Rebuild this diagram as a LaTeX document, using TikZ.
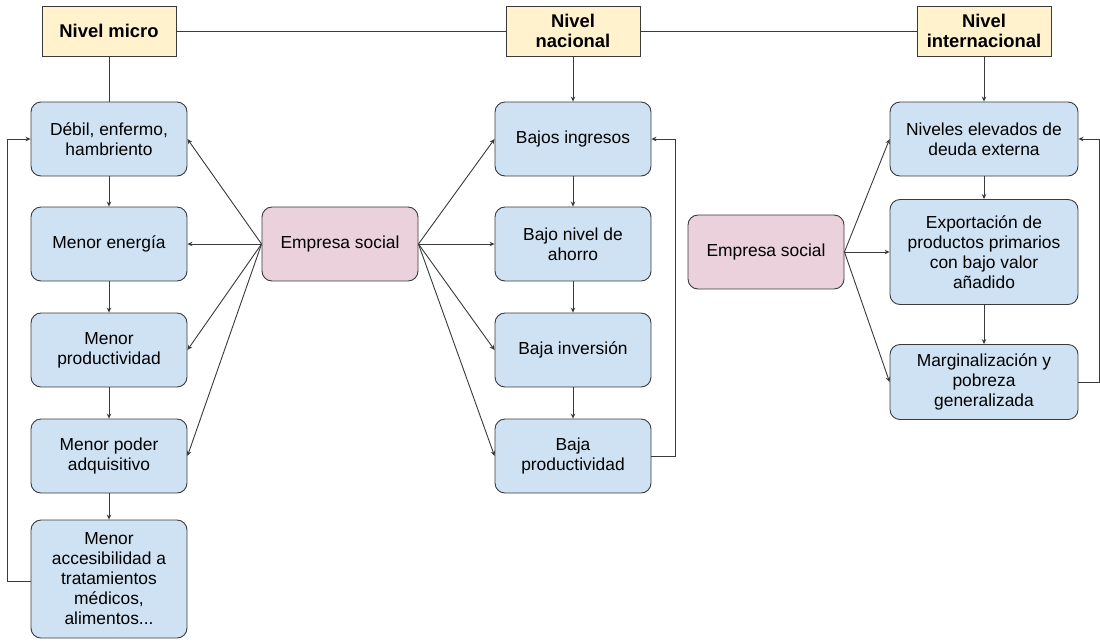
\documentclass[tikz,border=0pt]{standalone}
\usepackage{fontspec}
\setmainfont{Liberation Sans}
\usetikzlibrary{arrows.meta}
\definecolor{blueC}{HTML}{CFE2F3}
\definecolor{pinkC}{HTML}{EAD1DC}
\definecolor{yellowC}{HTML}{FFF2CC}
\definecolor{lineC}{HTML}{3A3A3A}
\begin{document}
\begin{tikzpicture}[x=1pt,y=-1pt,
  every node/.style={font=\fontsize{17.4}{20}\selectfont, align=center, inner sep=0pt},
  bluebox/.style={draw=lineC, line width=0.9pt, rounded corners=10pt, fill=blueC, minimum width=156pt, minimum height=74pt},
  pinkbox/.style={draw=lineC, line width=0.9pt, rounded corners=10pt, fill=pinkC, minimum width=156pt, minimum height=74pt},
  headbox/.style={draw=lineC, line width=0.9pt, fill=yellowC, minimum width=134pt, minimum height=50pt, font=\fontsize{18.4}{20}\selectfont\bfseries},
  conn/.style={draw=lineC, line width=0.9pt},
  arr/.style={conn, -{Stealth[length=5pt,width=4.5pt]}}
]
\useasboundingbox (0,0) rectangle (1100,641);
\fill[white] (0,0) rectangle (1100,641);

% headers
\node[headbox] (hmicro) at (109,31) {Nivel micro};
\node[headbox] (hnac) at (573,31) {Nivel\\nacional};
\node[headbox] (hint) at (984,31) {Nivel\\internacional};

% left column
\node[bluebox] (l1) at (109,139) {Débil, enfermo,\\hambriento};
\node[bluebox] (l2) at (109,244) {Menor energía};
\node[bluebox] (l3) at (109,350) {Menor\\productividad};
\node[bluebox] (l4) at (109,456) {Menor poder\\adquisitivo};
\node[bluebox, minimum height=118pt] (l5) at (109,579) {Menor\\accesibilidad a\\tratamientos\\médicos,\\alimentos...};

\node[pinkbox] (es1) at (340,244) {Empresa social};

% middle column
\node[bluebox] (m1) at (573,139) {Bajos ingresos};
\node[bluebox] (m2) at (573,244) {Bajo nivel de\\ahorro};
\node[bluebox] (m3) at (573,350) {Baja inversión};
\node[bluebox] (m4) at (573,456) {Baja\\productividad};

% right
\node[pinkbox] (es2) at (766,252) {Empresa social};
\node[bluebox, minimum width=188pt] (r1) at (984,139) {Niveles elevados de\\deuda externa};
\node[bluebox, minimum width=188pt, minimum height=105pt] (r2) at (984,252) {Exportación de\\productos primarios\\con bajo valor\\añadido};
\node[bluebox, minimum width=188pt, minimum height=75pt] (r3) at (984,382) {Marginalización y\\pobreza\\generalizada};

% header connections
\draw[conn] (hmicro.east) -- (hnac.west);
\draw[conn] (hnac.east) -- (hint.west);
\draw[conn] (hmicro.south) -- (l1.north);
\draw[arr] (hnac.south) -- (m1.north);
\draw[arr] (hint.south) -- (r1.north);

% vertical chains
\draw[arr] (l1) -- (l2);
\draw[arr] (l2) -- (l3);
\draw[arr] (l3) -- (l4);
\draw[arr] (l4) -- (l5);
\draw[arr] (m1) -- (m2);
\draw[arr] (m2) -- (m3);
\draw[arr] (m3) -- (m4);
\draw[arr] (r1) -- (r2);
\draw[arr] (r2) -- (r3);

% feedback loops
\coordinate (fl) at (7,0);
\draw[arr] (l5.west |- 0,581) -- (fl |- 0,581) -- (fl |- l1.west) -- (l1.west);
\coordinate (fm) at (675,0);
\draw[arr] (m4.east) -- (fm |- m4.east) -- (fm |- m1.east) -- (m1.east);
\coordinate (fr) at (1099,0);
\draw[arr] (r3.east) -- (fr |- r3.east) -- (fr |- r1.east) -- (r1.east);

% empresa social left
\draw[arr] (es1.west) -- (l1.east);
\draw[arr] (es1.west) -- (l2.east);
\draw[arr] (es1.west) -- (l3.east);
\draw[arr] (es1.west) -- (l4.east);
\draw[arr] (es1.east) -- (m1.west);
\draw[arr] (es1.east) -- (m2.west);
\draw[arr] (es1.east) -- (m3.west);
\draw[arr] (es1.east) -- (m4.west);

% empresa social right
\draw[arr] (es2.east) -- (r1.west);
\draw[arr] (es2.east) -- (r2.west);
\draw[arr] (es2.east) -- (r3.west);
\end{tikzpicture}
\end{document}
